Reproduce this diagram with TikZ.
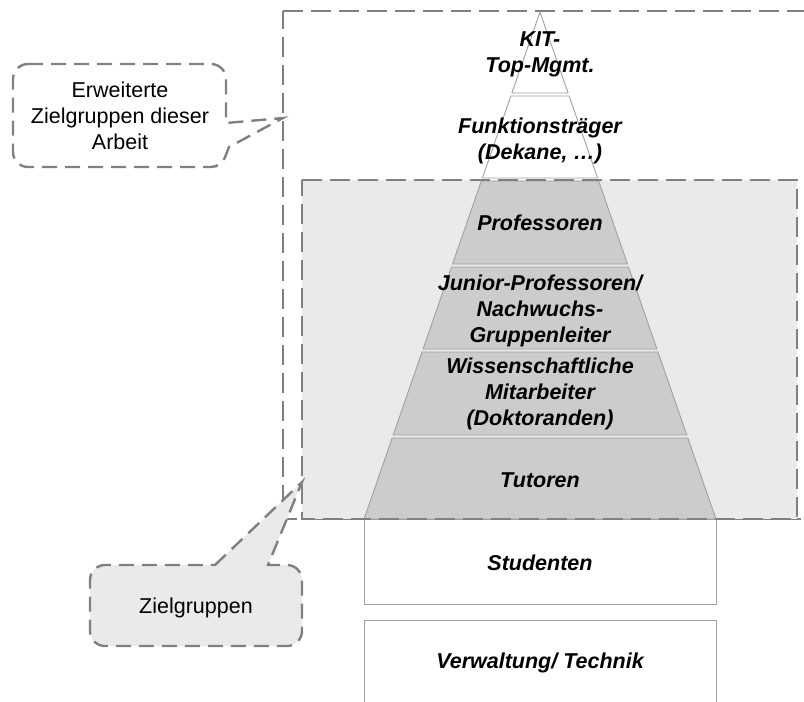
\documentclass[tikz,border=0pt]{standalone}
\usepackage{fontspec}
\setmainfont{Liberation Sans}
\definecolor{dashgray}{HTML}{808080}
\definecolor{zonefill}{HTML}{EAEAEA}
\definecolor{layerfill}{HTML}{CCCCCC}
\definecolor{layeredge}{HTML}{A0A0A0}
\begin{document}
\begin{tikzpicture}[x=1pt,y=-1pt,
  zone/.style={draw=dashgray,line width=2.6pt,dash pattern=on 20pt off 8pt},
  bubble/.style={draw=dashgray,line width=2.4pt,dash pattern=on 15pt off 8pt},
  level/.style={draw=layeredge,line width=0.9pt},
  leveltext/.style={align=center,font=\bfseries\itshape\fontsize{21.5}{26}\selectfont},
  bubbletext/.style={align=center,font=\fontsize{21.5}{26}\selectfont}]
\useasboundingbox (0,0) rectangle (804,702);
% trapezoid slice of the pyramid between two heights
\newcommand\pyrslice[3]{%
  \path[level,fill=#3] ({540-(#1-12)*0.347},#1) -- ({540+(#1-12)*0.347},#1)
    -- ({540+(#2-12)*0.347},#2) -- ({540-(#2-12)*0.347},#2) -- cycle;}

% extended target groups frame and core target groups area
\draw[zone] (283,11) -- (806,11) -- (806,519) -- (283,519) -- cycle;
\fill[zonefill] (302,180) rectangle (797,519);

% pyramid
\pyrslice{12}{93}{white}
\pyrslice{96}{178}{white}
\pyrslice{181}{264}{layerfill}
\pyrslice{267}{349}{layerfill}
\pyrslice{352}{435}{layerfill}
\pyrslice{438}{519}{layerfill}
\draw[level,fill=white] (364,519) rectangle (716,604);
\draw[level,fill=white] (364,620) rectangle (716,706);

\draw[zone] (302,180) -- (797,180) -- (797,519) -- (302,519) -- cycle;

\node[leveltext] (top)  at (540,54)  {KIT-\\Top-Mgmt.};
\node[leveltext] (funk) at (540,141) {Funktionsträger\\(Dekane, …)};
\node[leveltext] (prof) at (540,223) {Professoren};
\node[leveltext] (jun)  at (540,311) {Junior-Professoren/\\Nachwuchs-\\Gruppenleiter};
\node[leveltext] (wiss) at (540,394) {Wissenschaftliche\\Mitarbeiter\\(Doktoranden)};
\node[leveltext] (tut)  at (540,480) {Tutoren};
\node[leveltext] (stud) at (540,563) {Studenten};
\node[leveltext] (verw) at (540,663) {Verwaltung/ Technik};

% callout: extended target groups
\path[bubble,fill=white] (28,64) -- (211,64) arc[start angle=270,end angle=360,radius=15]
  -- (226,123) -- (283,118) -- (229,147) -- (224.9,157.6)
  arc[start angle=22,end angle=90,radius=15]
  -- (28,167) arc[start angle=90,end angle=180,radius=15]
  -- (13,79) arc[start angle=180,end angle=270,radius=15] -- cycle;
\node[bubbletext] (ext) at (120,116) {Erweiterte\\Zielgruppen dieser\\Arbeit};

% callout: target groups
\path[bubble,fill=zonefill] (215,565) -- (302,482) -- (268,565) -- (287,565)
  arc[start angle=270,end angle=360,radius=15]
  -- (302,631) arc[start angle=0,end angle=90,radius=15]
  -- (105,646) arc[start angle=90,end angle=180,radius=15]
  -- (90,580) arc[start angle=180,end angle=270,radius=15] -- cycle;
\node[bubbletext] (core) at (196,608) {Zielgruppen};
\end{tikzpicture}
\end{document}
